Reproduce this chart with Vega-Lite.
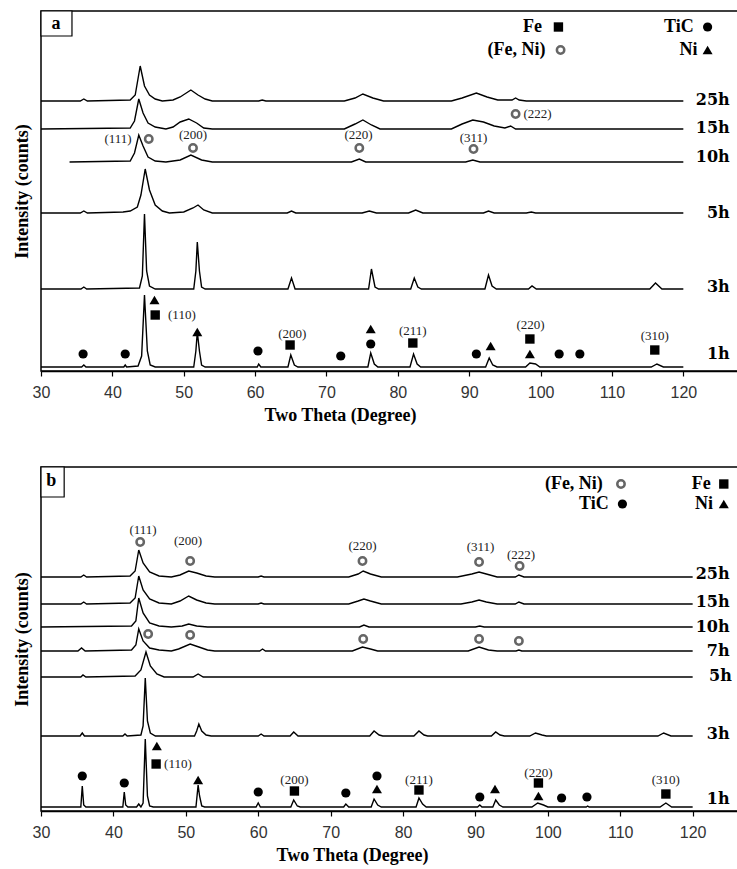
{
  "$schema": "https://vega.github.io/schema/vega-lite/v6.json",
  "padding": {"left": 12, "top": 9, "right": 0, "bottom": 0},
  "background": "white",
  "spacing": 40,
  "config": {
    "view": {"stroke": "#000", "strokeWidth": 1.5},
    "axisX": {"grid": false, "tickSize": 5, "tickColor": "#000", "tickWidth": 1.2, "domainColor": "#000", "domainWidth": 1.5, "labelFont": "Liberation Sans", "labelFontSize": 16, "labelColor": "#333", "labelPadding": 8, "labelFlush": false, "titleFont": "Liberation Serif", "titleFontSize": 18, "titleFontWeight": "bold", "titleColor": "#000", "titlePadding": 6},
    "axisY": {"labels": false, "ticks": false, "domain": false, "grid": false, "titleFont": "Liberation Serif", "titleFontSize": 18, "titleFontWeight": "bold", "titleColor": "#000", "titlePadding": 10}
  },
  "datasets": {
    "boxa": [{"t": 30, "t2": 34.34, "v": 335, "v2": 360}],
    "boxb": [{"t": 30, "t2": 33.2, "v": 314, "v2": 344}],
    "la": [
      {"s":"25h","t":30,"v":270},{"s":"25h","t":35.5,"v":270},{"s":"25h","t":36,"v":272},{"s":"25h","t":36.5,"v":270},{"s":"25h","t":42.5,"v":271},{"s":"25h","t":43.2,"v":276},{"s":"25h","t":43.9,"v":305},{"s":"25h","t":44.5,"v":285},{"s":"25h","t":45.2,"v":276},{"s":"25h","t":46,"v":272},{"s":"25h","t":47,"v":270},{"s":"25h","t":48.5,"v":271},{"s":"25h","t":49.5,"v":274},{"s":"25h","t":51,"v":281},{"s":"25h","t":52,"v":276},{"s":"25h","t":53,"v":272},{"s":"25h","t":54,"v":270},{"s":"25h","t":60.5,"v":270},{"s":"25h","t":61,"v":271},{"s":"25h","t":61.5,"v":270},{"s":"25h","t":72.5,"v":270},{"s":"25h","t":74,"v":273},{"s":"25h","t":75.1,"v":277},{"s":"25h","t":76.5,"v":273},{"s":"25h","t":78,"v":270},{"s":"25h","t":87.5,"v":270},{"s":"25h","t":89,"v":273},{"s":"25h","t":91,"v":278},{"s":"25h","t":92.5,"v":274},{"s":"25h","t":94,"v":271},{"s":"25h","t":96,"v":271},{"s":"25h","t":96.5,"v":273},{"s":"25h","t":97,"v":271},{"s":"25h","t":98,"v":270},{"s":"25h","t":120,"v":270},
      {"s":"15h","t":30,"v":242},{"s":"15h","t":42.5,"v":243},{"s":"15h","t":43.1,"v":250},{"s":"15h","t":43.7,"v":272},{"s":"15h","t":44.3,"v":258},{"s":"15h","t":45,"v":248},{"s":"15h","t":46,"v":244},{"s":"15h","t":47.5,"v":242},{"s":"15h","t":48.5,"v":244},{"s":"15h","t":49.5,"v":249},{"s":"15h","t":50.7,"v":252},{"s":"15h","t":51.8,"v":248},{"s":"15h","t":52.8,"v":243},{"s":"15h","t":54,"v":242},{"s":"15h","t":72.5,"v":242},{"s":"15h","t":74,"v":247},{"s":"15h","t":75.1,"v":251},{"s":"15h","t":76.3,"v":246},{"s":"15h","t":77.5,"v":242},{"s":"15h","t":87.5,"v":242},{"s":"15h","t":89,"v":247},{"s":"15h","t":90.5,"v":251},{"s":"15h","t":92,"v":249},{"s":"15h","t":93.5,"v":245},{"s":"15h","t":95,"v":243},{"s":"15h","t":95.8,"v":245},{"s":"15h","t":96.5,"v":242},{"s":"15h","t":120,"v":242},
      {"s":"10h","t":34,"v":209},{"s":"10h","t":42.5,"v":210},{"s":"10h","t":43.1,"v":218},{"s":"10h","t":43.7,"v":236},{"s":"10h","t":44.3,"v":225},{"s":"10h","t":45,"v":214},{"s":"10h","t":46,"v":210},{"s":"10h","t":47.5,"v":209},{"s":"10h","t":49.5,"v":211},{"s":"10h","t":51,"v":216},{"s":"10h","t":52.5,"v":211},{"s":"10h","t":54,"v":209},{"s":"10h","t":73.5,"v":209},{"s":"10h","t":74.6,"v":212},{"s":"10h","t":75.5,"v":209},{"s":"10h","t":89.5,"v":209},{"s":"10h","t":90.5,"v":211},{"s":"10h","t":91.5,"v":209},{"s":"10h","t":120,"v":209},
      {"s":"5h","t":30,"v":158},{"s":"5h","t":35.5,"v":158},{"s":"5h","t":36,"v":160},{"s":"5h","t":36.5,"v":158},{"s":"5h","t":41.5,"v":159},{"s":"5h","t":42.5,"v":160},{"s":"5h","t":43.5,"v":164},{"s":"5h","t":44,"v":176},{"s":"5h","t":44.6,"v":202},{"s":"5h","t":45.2,"v":181},{"s":"5h","t":46,"v":166},{"s":"5h","t":47,"v":160},{"s":"5h","t":48,"v":158},{"s":"5h","t":50,"v":159},{"s":"5h","t":51.3,"v":163},{"s":"5h","t":52,"v":166},{"s":"5h","t":52.8,"v":161},{"s":"5h","t":54,"v":158},{"s":"5h","t":64.5,"v":158},{"s":"5h","t":65.1,"v":160},{"s":"5h","t":65.7,"v":158},{"s":"5h","t":75,"v":158},{"s":"5h","t":76,"v":160},{"s":"5h","t":77,"v":158},{"s":"5h","t":81.5,"v":158},{"s":"5h","t":82.5,"v":161},{"s":"5h","t":83.5,"v":158},{"s":"5h","t":92,"v":158},{"s":"5h","t":92.7,"v":160},{"s":"5h","t":93.5,"v":158},{"s":"5h","t":98,"v":158},{"s":"5h","t":98.7,"v":159},{"s":"5h","t":99.3,"v":158},{"s":"5h","t":120,"v":158},
      {"s":"3h","t":30,"v":82},{"s":"3h","t":35.6,"v":82},{"s":"3h","t":36,"v":84},{"s":"3h","t":36.4,"v":82},{"s":"3h","t":43.8,"v":83},{"s":"3h","t":44.2,"v":95},{"s":"3h","t":44.5,"v":157},{"s":"3h","t":44.8,"v":100},{"s":"3h","t":45.2,"v":85},{"s":"3h","t":46,"v":82},{"s":"3h","t":51.4,"v":82},{"s":"3h","t":51.7,"v":100},{"s":"3h","t":51.9,"v":129},{"s":"3h","t":52.2,"v":100},{"s":"3h","t":52.5,"v":84},{"s":"3h","t":53,"v":82},{"s":"3h","t":64.6,"v":82},{"s":"3h","t":65.1,"v":93},{"s":"3h","t":65.6,"v":82},{"s":"3h","t":75.9,"v":82},{"s":"3h","t":76.3,"v":102},{"s":"3h","t":76.8,"v":84},{"s":"3h","t":77.3,"v":82},{"s":"3h","t":81.8,"v":82},{"s":"3h","t":82.3,"v":93},{"s":"3h","t":82.8,"v":84},{"s":"3h","t":83.3,"v":82},{"s":"3h","t":92.2,"v":82},{"s":"3h","t":92.7,"v":96},{"s":"3h","t":93.2,"v":85},{"s":"3h","t":93.8,"v":82},{"s":"3h","t":98.3,"v":82},{"s":"3h","t":98.8,"v":85},{"s":"3h","t":99.4,"v":82},{"s":"3h","t":115.3,"v":82},{"s":"3h","t":116.1,"v":88},{"s":"3h","t":117,"v":82},{"s":"3h","t":120,"v":82},
      {"s":"1h","t":30,"v":4},{"s":"1h","t":35.7,"v":4},{"s":"1h","t":36,"v":6},{"s":"1h","t":36.3,"v":4},{"s":"1h","t":41.6,"v":4},{"s":"1h","t":41.8,"v":6},{"s":"1h","t":42,"v":4},{"s":"1h","t":43.6,"v":5},{"s":"1h","t":44.1,"v":15},{"s":"1h","t":44.5,"v":76},{"s":"1h","t":44.9,"v":20},{"s":"1h","t":45.3,"v":6},{"s":"1h","t":46,"v":4},{"s":"1h","t":51.4,"v":4},{"s":"1h","t":51.7,"v":20},{"s":"1h","t":51.9,"v":39},{"s":"1h","t":52.2,"v":20},{"s":"1h","t":52.5,"v":6},{"s":"1h","t":53,"v":4},{"s":"1h","t":60.3,"v":4},{"s":"1h","t":60.5,"v":7},{"s":"1h","t":60.8,"v":4},{"s":"1h","t":64.6,"v":4},{"s":"1h","t":65,"v":16},{"s":"1h","t":65.5,"v":6},{"s":"1h","t":66,"v":4},{"s":"1h","t":75.8,"v":4},{"s":"1h","t":76.2,"v":18},{"s":"1h","t":76.7,"v":7},{"s":"1h","t":77.2,"v":4},{"s":"1h","t":81.7,"v":4},{"s":"1h","t":82.2,"v":17},{"s":"1h","t":82.7,"v":7},{"s":"1h","t":83.2,"v":4},{"s":"1h","t":92.3,"v":4},{"s":"1h","t":92.8,"v":13},{"s":"1h","t":93.3,"v":6},{"s":"1h","t":93.9,"v":4},{"s":"1h","t":97.9,"v":4},{"s":"1h","t":98.5,"v":8},{"s":"1h","t":99.3,"v":7},{"s":"1h","t":99.9,"v":4},{"s":"1h","t":115.5,"v":4},{"s":"1h","t":116.3,"v":7},{"s":"1h","t":117.2,"v":4},{"s":"1h","t":120,"v":4}
    ],
    "ma": [
      {"k":"TiC","t":35.9,"v":17},{"k":"TiC","t":41.8,"v":17},{"k":"TiC","t":60.4,"v":20},{"k":"TiC","t":72.0,"v":15},{"k":"TiC","t":76.2,"v":27},{"k":"TiC","t":91.0,"v":17},{"k":"TiC","t":102.6,"v":17},{"k":"TiC","t":105.5,"v":17},{"k":"TiC","t":123.4,"v":344},
      {"k":"Ni","t":45.9,"v":71},{"k":"Ni","t":51.9,"v":39},{"k":"Ni","t":76.2,"v":42},{"k":"Ni","t":93.0,"v":25},{"k":"Ni","t":98.5,"v":17},{"k":"Ni","t":123.4,"v":321},
      {"k":"Fe","t":46.0,"v":56},{"k":"Fe","t":64.9,"v":26},{"k":"Fe","t":82.1,"v":28},{"k":"Fe","t":98.5,"v":32},{"k":"Fe","t":116.0,"v":21},{"k":"Fe","t":102.5,"v":344},
      {"k":"FeNi","t":45.1,"v":232},{"k":"FeNi","t":51.3,"v":223},{"k":"FeNi","t":74.6,"v":223},{"k":"FeNi","t":90.6,"v":222},{"k":"FeNi","t":96.5,"v":257},{"k":"FeNi","t":102.8,"v":321}
    ],
    "ta": [
      {"g":"hl","lab":"(110)","t":47.8,"v":56},{"g":"hc","lab":"(200)","t":65.2,"v":37},{"g":"hc","lab":"(211)","t":82.1,"v":40},{"g":"hc","lab":"(220)","t":98.6,"v":46},{"g":"hc","lab":"(310)","t":116.0,"v":35},
      {"g":"hc","lab":"(111)","t":40.8,"v":232},{"g":"hc","lab":"(200)","t":51.3,"v":236},{"g":"hc","lab":"(220)","t":74.5,"v":236},{"g":"hc","lab":"(311)","t":90.6,"v":233},{"g":"hl","lab":"(222)","t":97.6,"v":257},
      {"g":"ser","lab":"25h","t":126.5,"v":271},{"g":"ser","lab":"15h","t":126.5,"v":243},{"g":"ser","lab":"10h","t":126.5,"v":214},{"g":"ser","lab":"5h","t":126.5,"v":158},{"g":"ser","lab":"3h","t":126.5,"v":84},{"g":"ser","lab":"1h","t":126.5,"v":17},
      {"g":"leg","lab":"Fe","t":100.2,"v":344},{"g":"leg","lab":"(Fe, Ni)","t":100.7,"v":321},{"g":"leg","lab":"TiC","t":121.45,"v":344},{"g":"leg","lab":"Ni","t":122.0,"v":321},
      {"g":"pl","lab":"a","t":32.1,"v":347}
    ],
    "lb": [
      {"s":"25h","t":30,"v":234},{"s":"25h","t":35.5,"v":234},{"s":"25h","t":35.9,"v":236},{"s":"25h","t":36.3,"v":234},{"s":"25h","t":42.3,"v":235},{"s":"25h","t":43,"v":240},{"s":"25h","t":43.5,"v":261},{"s":"25h","t":44.1,"v":248},{"s":"25h","t":45,"v":239},{"s":"25h","t":46.3,"v":235},{"s":"25h","t":48,"v":234},{"s":"25h","t":49.2,"v":236},{"s":"25h","t":50.4,"v":240},{"s":"25h","t":51.5,"v":238},{"s":"25h","t":52.8,"v":235},{"s":"25h","t":54,"v":234},{"s":"25h","t":60,"v":234},{"s":"25h","t":60.4,"v":235},{"s":"25h","t":60.8,"v":234},{"s":"25h","t":72.5,"v":234},{"s":"25h","t":73.8,"v":237},{"s":"25h","t":74.5,"v":240},{"s":"25h","t":75.5,"v":237},{"s":"25h","t":77,"v":234},{"s":"25h","t":87.5,"v":234},{"s":"25h","t":89.5,"v":237},{"s":"25h","t":90.5,"v":239},{"s":"25h","t":91.5,"v":237},{"s":"25h","t":93,"v":234},{"s":"25h","t":95.5,"v":234},{"s":"25h","t":96,"v":236},{"s":"25h","t":96.7,"v":234},{"s":"25h","t":120,"v":234},
      {"s":"15h","t":30,"v":207},{"s":"15h","t":35.5,"v":207},{"s":"15h","t":35.9,"v":209},{"s":"15h","t":36.3,"v":207},{"s":"15h","t":42.3,"v":208},{"s":"15h","t":43,"v":213},{"s":"15h","t":43.5,"v":235},{"s":"15h","t":44.1,"v":221},{"s":"15h","t":45,"v":212},{"s":"15h","t":46.3,"v":208},{"s":"15h","t":48,"v":207},{"s":"15h","t":49.2,"v":210},{"s":"15h","t":50.4,"v":215},{"s":"15h","t":51.5,"v":211},{"s":"15h","t":52.8,"v":208},{"s":"15h","t":54,"v":207},{"s":"15h","t":60,"v":207},{"s":"15h","t":60.4,"v":208},{"s":"15h","t":60.8,"v":207},{"s":"15h","t":72.5,"v":207},{"s":"15h","t":73.8,"v":210},{"s":"15h","t":74.6,"v":212},{"s":"15h","t":75.5,"v":210},{"s":"15h","t":77,"v":207},{"s":"15h","t":88,"v":207},{"s":"15h","t":89.5,"v":209},{"s":"15h","t":90.5,"v":211},{"s":"15h","t":91.5,"v":209},{"s":"15h","t":93,"v":207},{"s":"15h","t":95.5,"v":207},{"s":"15h","t":96,"v":209},{"s":"15h","t":96.7,"v":207},{"s":"15h","t":120,"v":207},
      {"s":"10h","t":30,"v":184},{"s":"10h","t":42.5,"v":185},{"s":"10h","t":43.1,"v":190},{"s":"10h","t":43.5,"v":213},{"s":"10h","t":44.1,"v":198},{"s":"10h","t":45,"v":188},{"s":"10h","t":46.3,"v":185},{"s":"10h","t":48,"v":184},{"s":"10h","t":49.5,"v":185},{"s":"10h","t":50.4,"v":187},{"s":"10h","t":51.5,"v":185},{"s":"10h","t":53,"v":184},{"s":"10h","t":74,"v":184},{"s":"10h","t":74.6,"v":186},{"s":"10h","t":75.3,"v":184},{"s":"10h","t":90,"v":184},{"s":"10h","t":90.6,"v":185},{"s":"10h","t":91.2,"v":184},{"s":"10h","t":120,"v":184},
      {"s":"7h","t":30,"v":160},{"s":"7h","t":35.1,"v":160},{"s":"7h","t":35.6,"v":163},{"s":"7h","t":36.1,"v":160},{"s":"7h","t":42.5,"v":161},{"s":"7h","t":43.1,"v":166},{"s":"7h","t":43.5,"v":182},{"s":"7h","t":44.1,"v":170},{"s":"7h","t":45,"v":163},{"s":"7h","t":46.3,"v":161},{"s":"7h","t":48,"v":160},{"s":"7h","t":49,"v":162},{"s":"7h","t":50.6,"v":167},{"s":"7h","t":51.8,"v":164},{"s":"7h","t":53,"v":161},{"s":"7h","t":54,"v":160},{"s":"7h","t":60.2,"v":160},{"s":"7h","t":60.6,"v":162},{"s":"7h","t":61,"v":160},{"s":"7h","t":73,"v":160},{"s":"7h","t":74.4,"v":164},{"s":"7h","t":75.5,"v":162},{"s":"7h","t":76.5,"v":160},{"s":"7h","t":89,"v":160},{"s":"7h","t":90.5,"v":164},{"s":"7h","t":91.8,"v":161},{"s":"7h","t":93,"v":160},{"s":"7h","t":95.6,"v":160},{"s":"7h","t":96,"v":161},{"s":"7h","t":96.4,"v":160},{"s":"7h","t":120,"v":160},
      {"s":"5h","t":30,"v":134},{"s":"5h","t":35.5,"v":134},{"s":"5h","t":35.8,"v":136},{"s":"5h","t":36.2,"v":134},{"s":"5h","t":43,"v":135},{"s":"5h","t":43.8,"v":141},{"s":"5h","t":44.5,"v":159},{"s":"5h","t":45.1,"v":145},{"s":"5h","t":46,"v":137},{"s":"5h","t":47,"v":134},{"s":"5h","t":51,"v":134},{"s":"5h","t":51.7,"v":137},{"s":"5h","t":52.4,"v":134},{"s":"5h","t":120,"v":134},
      {"s":"3h","t":30,"v":75},{"s":"3h","t":35.4,"v":75},{"s":"3h","t":35.7,"v":78},{"s":"3h","t":36,"v":75},{"s":"3h","t":41.3,"v":75},{"s":"3h","t":41.6,"v":77},{"s":"3h","t":41.9,"v":75},{"s":"3h","t":43.8,"v":76},{"s":"3h","t":44.1,"v":85},{"s":"3h","t":44.4,"v":133},{"s":"3h","t":44.7,"v":90},{"s":"3h","t":45.1,"v":78},{"s":"3h","t":45.8,"v":75},{"s":"3h","t":51.2,"v":75},{"s":"3h","t":51.5,"v":80},{"s":"3h","t":51.8,"v":87},{"s":"3h","t":52.2,"v":80},{"s":"3h","t":52.8,"v":76},{"s":"3h","t":53.5,"v":75},{"s":"3h","t":60,"v":75},{"s":"3h","t":60.4,"v":77},{"s":"3h","t":60.8,"v":75},{"s":"3h","t":64.4,"v":75},{"s":"3h","t":64.9,"v":79},{"s":"3h","t":65.5,"v":75},{"s":"3h","t":75.4,"v":75},{"s":"3h","t":76,"v":80},{"s":"3h","t":76.7,"v":76},{"s":"3h","t":77.2,"v":75},{"s":"3h","t":81.5,"v":75},{"s":"3h","t":82.2,"v":80},{"s":"3h","t":82.9,"v":76},{"s":"3h","t":83.4,"v":75},{"s":"3h","t":92.2,"v":75},{"s":"3h","t":92.8,"v":79},{"s":"3h","t":93.4,"v":76},{"s":"3h","t":94,"v":75},{"s":"3h","t":97.5,"v":75},{"s":"3h","t":98.3,"v":78},{"s":"3h","t":99.2,"v":76},{"s":"3h","t":99.8,"v":75},{"s":"3h","t":115.2,"v":75},{"s":"3h","t":116,"v":78},{"s":"3h","t":117,"v":75},{"s":"3h","t":120,"v":75},
      {"s":"1h","t":30,"v":4},{"s":"1h","t":35.5,"v":4},{"s":"1h","t":35.7,"v":25},{"s":"1h","t":35.9,"v":6},{"s":"1h","t":36.2,"v":4},{"s":"1h","t":41.3,"v":4},{"s":"1h","t":41.5,"v":19},{"s":"1h","t":41.7,"v":6},{"s":"1h","t":42,"v":4},{"s":"1h","t":43.2,"v":4},{"s":"1h","t":43.5,"v":7},{"s":"1h","t":43.8,"v":4},{"s":"1h","t":44.1,"v":8},{"s":"1h","t":44.4,"v":72},{"s":"1h","t":44.7,"v":15},{"s":"1h","t":45,"v":5},{"s":"1h","t":45.5,"v":4},{"s":"1h","t":51.4,"v":4},{"s":"1h","t":51.7,"v":26},{"s":"1h","t":51.9,"v":15},{"s":"1h","t":52.2,"v":5},{"s":"1h","t":52.6,"v":4},{"s":"1h","t":59.7,"v":4},{"s":"1h","t":60,"v":8},{"s":"1h","t":60.3,"v":4},{"s":"1h","t":64.5,"v":4},{"s":"1h","t":64.9,"v":11},{"s":"1h","t":65.4,"v":5},{"s":"1h","t":65.8,"v":4},{"s":"1h","t":71.8,"v":4},{"s":"1h","t":72.1,"v":7},{"s":"1h","t":72.5,"v":4},{"s":"1h","t":75.6,"v":4},{"s":"1h","t":76,"v":12},{"s":"1h","t":76.5,"v":6},{"s":"1h","t":77,"v":4},{"s":"1h","t":81.8,"v":4},{"s":"1h","t":82.2,"v":13},{"s":"1h","t":82.7,"v":7},{"s":"1h","t":83.2,"v":4},{"s":"1h","t":90.3,"v":4},{"s":"1h","t":90.6,"v":6},{"s":"1h","t":90.9,"v":4},{"s":"1h","t":92.4,"v":4},{"s":"1h","t":92.8,"v":11},{"s":"1h","t":93.3,"v":6},{"s":"1h","t":93.8,"v":4},{"s":"1h","t":97.8,"v":4},{"s":"1h","t":98.6,"v":8},{"s":"1h","t":99.4,"v":6},{"s":"1h","t":100,"v":4},{"s":"1h","t":105.3,"v":4},{"s":"1h","t":105.5,"v":5},{"s":"1h","t":105.7,"v":4},{"s":"1h","t":115.5,"v":4},{"s":"1h","t":116.3,"v":8},{"s":"1h","t":117.1,"v":4},{"s":"1h","t":120,"v":4}
    ],
    "mb": [
      {"k":"TiC","t":35.7,"v":35},{"k":"TiC","t":41.5,"v":28},{"k":"TiC","t":60.0,"v":19},{"k":"TiC","t":72.1,"v":18},{"k":"TiC","t":76.4,"v":35},{"k":"TiC","t":90.6,"v":14},{"k":"TiC","t":101.9,"v":13},{"k":"TiC","t":105.4,"v":14},{"k":"TiC","t":110.3,"v":307},
      {"k":"Ni","t":46.0,"v":65},{"k":"Ni","t":51.7,"v":31},{"k":"Ni","t":76.4,"v":22},{"k":"Ni","t":92.7,"v":22},{"k":"Ni","t":98.7,"v":15},{"k":"Ni","t":124.3,"v":307},
      {"k":"Fe","t":45.9,"v":47},{"k":"Fe","t":65.0,"v":20},{"k":"Fe","t":82.2,"v":21},{"k":"Fe","t":98.7,"v":28},{"k":"Fe","t":116.3,"v":17},{"k":"Fe","t":124.3,"v":327},
      {"k":"FeNi","t":43.7,"v":269},{"k":"FeNi","t":50.6,"v":250},{"k":"FeNi","t":74.4,"v":250},{"k":"FeNi","t":90.5,"v":249},{"k":"FeNi","t":96.1,"v":245},
      {"k":"FeNi","t":44.8,"v":177},{"k":"FeNi","t":50.6,"v":176},{"k":"FeNi","t":74.5,"v":172},{"k":"FeNi","t":90.5,"v":172},{"k":"FeNi","t":96.0,"v":170},{"k":"FeNi","t":110.1,"v":327}
    ],
    "tb": [
      {"g":"hl","lab":"(110)","t":47.0,"v":47},{"g":"hc","lab":"(200)","t":65.0,"v":31},{"g":"hc","lab":"(211)","t":82.2,"v":31},{"g":"hc","lab":"(220)","t":98.7,"v":38},{"g":"hc","lab":"(310)","t":116.3,"v":31},
      {"g":"hc","lab":"(111)","t":44.1,"v":281},{"g":"hc","lab":"(200)","t":50.3,"v":270},{"g":"hc","lab":"(220)","t":74.4,"v":265},{"g":"hc","lab":"(311)","t":90.7,"v":264},{"g":"hc","lab":"(222)","t":96.3,"v":256},
      {"g":"ser","lab":"25h","t":125.1,"v":237},{"g":"ser","lab":"15h","t":125.1,"v":209},{"g":"ser","lab":"10h","t":125.1,"v":184},{"g":"ser","lab":"7h","t":125.1,"v":160},{"g":"ser","lab":"5h","t":125.4,"v":135},{"g":"ser","lab":"3h","t":125.1,"v":77},{"g":"ser","lab":"1h","t":125.1,"v":12},
      {"g":"leg","lab":"(Fe, Ni)","t":107.6,"v":327},{"g":"leg","lab":"TiC","t":108.4,"v":307},{"g":"leg","lab":"Fe","t":122.5,"v":327},{"g":"leg","lab":"Ni","t":122.8,"v":307},
      {"g":"pl","lab":"b","t":31.4,"v":330}
    ]
  },
  "vconcat": [
    {
      "width": 698,
      "height": 360,
      "encoding": {
        "x": {"field": "t", "type": "quantitative", "scale": {"domain": [30, 127.8], "nice": false, "zero": false}, "axis": {"title": "Two Theta (Degree)", "values": [30,40,50,60,70,80,90,100,110,120], "titleX": 299}},
        "y": {"field": "v", "type": "quantitative", "scale": {"domain": [0, 360], "nice": false, "zero": false}, "axis": {"title": "Intensity (counts)"}}
      },
      "layer": [
        {"data": {"name": "boxa"}, "mark": {"type": "rect", "fill": "white", "stroke": "#000", "strokeWidth": 1.2}, "encoding": {"x2": {"field": "t2"}, "y2": {"field": "v2"}}},
        {"data": {"name": "la"}, "mark": {"type": "line", "color": "#000", "strokeWidth": 1.4}, "encoding": {"detail": {"field": "s"}}},
        {"data": {"name": "ma"}, "transform": [{"filter": "datum.k === 'TiC'"}], "mark": {"type": "point", "shape": "circle", "filled": true, "fill": "#000", "stroke": null, "size": 85, "opacity": 1}},
        {"data": {"name": "ma"}, "transform": [{"filter": "datum.k === 'Fe'"}], "mark": {"type": "point", "shape": "square", "filled": true, "fill": "#000", "stroke": null, "size": 88, "opacity": 1}},
        {"data": {"name": "ma"}, "transform": [{"filter": "datum.k === 'Ni'"}], "mark": {"type": "point", "shape": "triangle-up", "filled": true, "fill": "#000", "stroke": null, "size": 100, "opacity": 1}},
        {"data": {"name": "ma"}, "transform": [{"filter": "datum.k === 'FeNi'"}], "mark": {"type": "point", "shape": "circle", "filled": false, "stroke": "#666", "strokeWidth": 2.5, "size": 55, "opacity": 1}},
        {"data": {"name": "ta"}, "transform": [{"filter": "datum.g === 'hc'"}], "mark": {"type": "text", "font": "Liberation Serif", "fontSize": 13, "fill": "#222", "align": "center", "baseline": "middle"}, "encoding": {"text": {"field": "lab"}}},
        {"data": {"name": "ta"}, "transform": [{"filter": "datum.g === 'hl'"}], "mark": {"type": "text", "font": "Liberation Serif", "fontSize": 13, "fill": "#222", "align": "left", "baseline": "middle"}, "encoding": {"text": {"field": "lab"}}},
        {"data": {"name": "ta"}, "transform": [{"filter": "datum.g === 'ser'"}], "mark": {"type": "text", "font": "DejaVu Serif", "fontWeight": "bold", "fontSize": 16, "fill": "#000", "align": "right", "baseline": "middle"}, "encoding": {"text": {"field": "lab"}}},
        {"data": {"name": "ta"}, "transform": [{"filter": "datum.g === 'leg'"}], "mark": {"type": "text", "font": "Liberation Serif", "fontWeight": "bold", "fontSize": 18, "fill": "#000", "align": "right", "baseline": "middle"}, "encoding": {"text": {"field": "lab"}}},
        {"data": {"name": "ta"}, "transform": [{"filter": "datum.g === 'pl'"}], "mark": {"type": "text", "font": "Liberation Serif", "fontWeight": "bold", "fontSize": 18, "fill": "#000", "align": "center", "baseline": "middle"}, "encoding": {"text": {"field": "lab"}}}
      ]
    },
    {
      "width": 698,
      "height": 344,
      "encoding": {
        "x": {"field": "t", "type": "quantitative", "scale": {"domain": [30, 126.4], "nice": false, "zero": false}, "axis": {"title": "Two Theta (Degree)", "values": [30,40,50,60,70,80,90,100,110,120], "titleX": 311}},
        "y": {"field": "v", "type": "quantitative", "scale": {"domain": [0, 344], "nice": false, "zero": false}, "axis": {"title": "Intensity (counts)"}}
      },
      "layer": [
        {"data": {"name": "boxb"}, "mark": {"type": "rect", "fill": "white", "stroke": "#000", "strokeWidth": 1.2}, "encoding": {"x2": {"field": "t2"}, "y2": {"field": "v2"}}},
        {"data": {"name": "lb"}, "mark": {"type": "line", "color": "#000", "strokeWidth": 1.4}, "encoding": {"detail": {"field": "s"}}},
        {"data": {"name": "mb"}, "transform": [{"filter": "datum.k === 'TiC'"}], "mark": {"type": "point", "shape": "circle", "filled": true, "fill": "#000", "stroke": null, "size": 85, "opacity": 1}},
        {"data": {"name": "mb"}, "transform": [{"filter": "datum.k === 'Fe'"}], "mark": {"type": "point", "shape": "square", "filled": true, "fill": "#000", "stroke": null, "size": 88, "opacity": 1}},
        {"data": {"name": "mb"}, "transform": [{"filter": "datum.k === 'Ni'"}], "mark": {"type": "point", "shape": "triangle-up", "filled": true, "fill": "#000", "stroke": null, "size": 100, "opacity": 1}},
        {"data": {"name": "mb"}, "transform": [{"filter": "datum.k === 'FeNi'"}], "mark": {"type": "point", "shape": "circle", "filled": false, "stroke": "#666", "strokeWidth": 2.5, "size": 55, "opacity": 1}},
        {"data": {"name": "tb"}, "transform": [{"filter": "datum.g === 'hc'"}], "mark": {"type": "text", "font": "Liberation Serif", "fontSize": 13, "fill": "#222", "align": "center", "baseline": "middle"}, "encoding": {"text": {"field": "lab"}}},
        {"data": {"name": "tb"}, "transform": [{"filter": "datum.g === 'hl'"}], "mark": {"type": "text", "font": "Liberation Serif", "fontSize": 13, "fill": "#222", "align": "left", "baseline": "middle"}, "encoding": {"text": {"field": "lab"}}},
        {"data": {"name": "tb"}, "transform": [{"filter": "datum.g === 'ser'"}], "mark": {"type": "text", "font": "DejaVu Serif", "fontWeight": "bold", "fontSize": 16, "fill": "#000", "align": "right", "baseline": "middle"}, "encoding": {"text": {"field": "lab"}}},
        {"data": {"name": "tb"}, "transform": [{"filter": "datum.g === 'leg'"}], "mark": {"type": "text", "font": "Liberation Serif", "fontWeight": "bold", "fontSize": 18, "fill": "#000", "align": "right", "baseline": "middle"}, "encoding": {"text": {"field": "lab"}}},
        {"data": {"name": "tb"}, "transform": [{"filter": "datum.g === 'pl'"}], "mark": {"type": "text", "font": "Liberation Serif", "fontWeight": "bold", "fontSize": 18, "fill": "#000", "align": "center", "baseline": "middle"}, "encoding": {"text": {"field": "lab"}}}
      ]
    }
  ]
}
